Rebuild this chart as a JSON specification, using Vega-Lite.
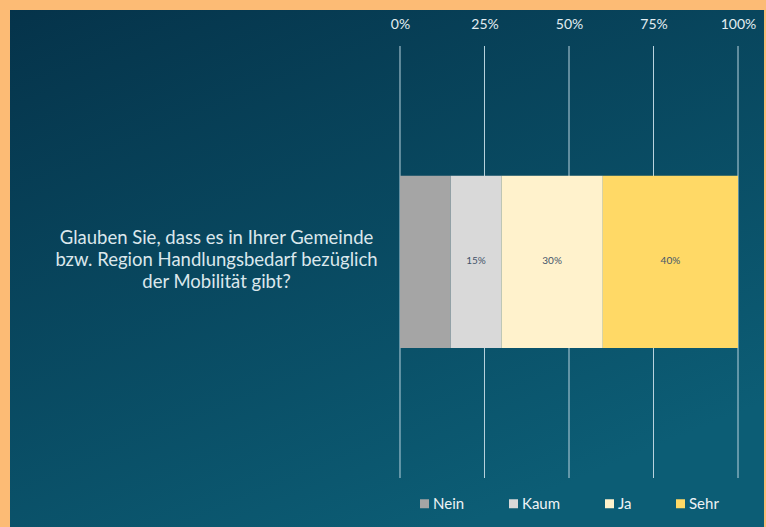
{
  "$schema": "https://vega.github.io/schema/vega-lite/v6.json",
  "width": 754,
  "height": 517,
  "autosize": {"type": "none"},
  "padding": {"left": 10, "top": 10, "right": 2, "bottom": 0},
  "background": "#fcbb75",
  "view": {
    "stroke": null,
    "fill": {
      "gradient": "linear",
      "x1": 0, "y1": 0, "x2": 0.6, "y2": 1,
      "stops": [
        {"offset": 0, "color": "#05334a"},
        {"offset": 1, "color": "#0c5d75"}
      ]
    }
  },
  "datasets": {
    "answers": [
      {"question": "Glauben Sie, dass es in Ihrer Gemeinde|bzw. Region Handlungsbedarf bezüglich|der Mobilität gibt?", "answer": "Nein", "rank": 1, "share": 0.15},
      {"question": "Glauben Sie, dass es in Ihrer Gemeinde|bzw. Region Handlungsbedarf bezüglich|der Mobilität gibt?", "answer": "Kaum", "rank": 2, "share": 0.15},
      {"question": "Glauben Sie, dass es in Ihrer Gemeinde|bzw. Region Handlungsbedarf bezüglich|der Mobilität gibt?", "answer": "Ja", "rank": 3, "share": 0.30},
      {"question": "Glauben Sie, dass es in Ihrer Gemeinde|bzw. Region Handlungsbedarf bezüglich|der Mobilität gibt?", "answer": "Sehr", "rank": 4, "share": 0.40}
    ],
    "ticks": [{"tick": 0}, {"tick": 0.25}, {"tick": 0.5}, {"tick": 0.75}, {"tick": 1}]
  },
  "layer": [
    {
      "data": {"name": "ticks"},
      "mark": {"type": "rule", "color": "#b9d3de", "strokeWidth": 1},
      "encoding": {
        "x": {
          "field": "tick", "type": "quantitative",
          "scale": {"domain": [-1.1538, 1.0769], "nice": false, "zero": false},
          "axis": {
            "orient": "top", "values": [0, 0.25, 0.5, 0.75, 1], "format": ".0%", "offset": -20,
            "labelPadding": 2, "domain": false, "ticks": false, "grid": false, "title": null,
            "labelFont": "Lato", "labelFontSize": 14, "labelColor": "#e3edf1",
            "labelBaseline": "alphabetic", "labelFlush": false
          }
        },
        "y": {"datum": 0, "type": "quantitative", "scale": {"domain": [-0.1134, 1.0833], "nice": false, "zero": false}, "axis": null},
        "y2": {"datum": 1}
      }
    },
    {
      "data": {"name": "answers"},
      "mark": {"type": "bar"},
      "encoding": {
        "y": {
          "field": "question", "type": "nominal",
          "scale": {"paddingInner": 0, "paddingOuter": 1.003, "align": 0.481},
          "axis": {
            "title": null, "orient": "left", "offset": -390, "domain": false, "ticks": false,
            "labelPadding": 184, "labelAlign": "center", "labelBaseline": "middle", "labelOffset": -24,
            "labelExpr": "split(datum.label, '|')", "labelFont": "Lato", "labelFontSize": 18.5,
            "labelLineHeight": 22, "labelColor": "#dbe7ec", "labelLimit": 0
          }
        },
        "x": {
          "field": "share", "type": "quantitative", "stack": "zero",
          "scale": {"domain": [-1.1538, 1.0769], "nice": false, "zero": false},
          "axis": {
            "orient": "top", "values": [0, 0.25, 0.5, 0.75, 1], "format": ".0%", "offset": -20,
            "labelPadding": 2, "domain": false, "ticks": false, "grid": false, "title": null,
            "labelFont": "Lato", "labelFontSize": 14, "labelColor": "#e3edf1",
            "labelBaseline": "alphabetic", "labelFlush": false
          }
        },
        "color": {
          "field": "answer", "type": "nominal",
          "scale": {"domain": ["Nein", "Kaum", "Ja", "Sehr"], "range": ["#a5a5a5", "#d9d9d9", "#fff2cc", "#ffd966"]},
          "legend": {
            "orient": "none", "legendX": 407, "legendY": 486, "direction": "horizontal", "title": null,
            "symbolType": "square", "symbolSize": 81, "symbolStrokeWidth": 0,
            "labelFont": "Lato", "labelFontSize": 15, "labelColor": "#eef3f5",
            "labelOffset": 1, "columnPadding": 41
          }
        },
        "order": {"field": "rank", "type": "quantitative"}
      }
    },
    {
      "data": {"name": "answers"},
      "mark": {"type": "text", "font": "Lato", "fontSize": 10, "color": "#44546a", "dy": 2},
      "encoding": {
        "y": {
          "field": "question", "type": "nominal",
          "scale": {"paddingInner": 0, "paddingOuter": 1.003, "align": 0.481},
          "axis": null
        },
        "x": {"field": "share", "type": "quantitative", "stack": "zero", "bandPosition": 0.5},
        "text": {"condition": {"test": "datum.answer === 'Nein'", "value": ""}, "field": "share", "format": ".0%"},
        "order": {"field": "rank", "type": "quantitative"}
      }
    }
  ],
  "resolve": {"scale": {"y": "independent"}, "axis": {"y": "independent"}}
}
